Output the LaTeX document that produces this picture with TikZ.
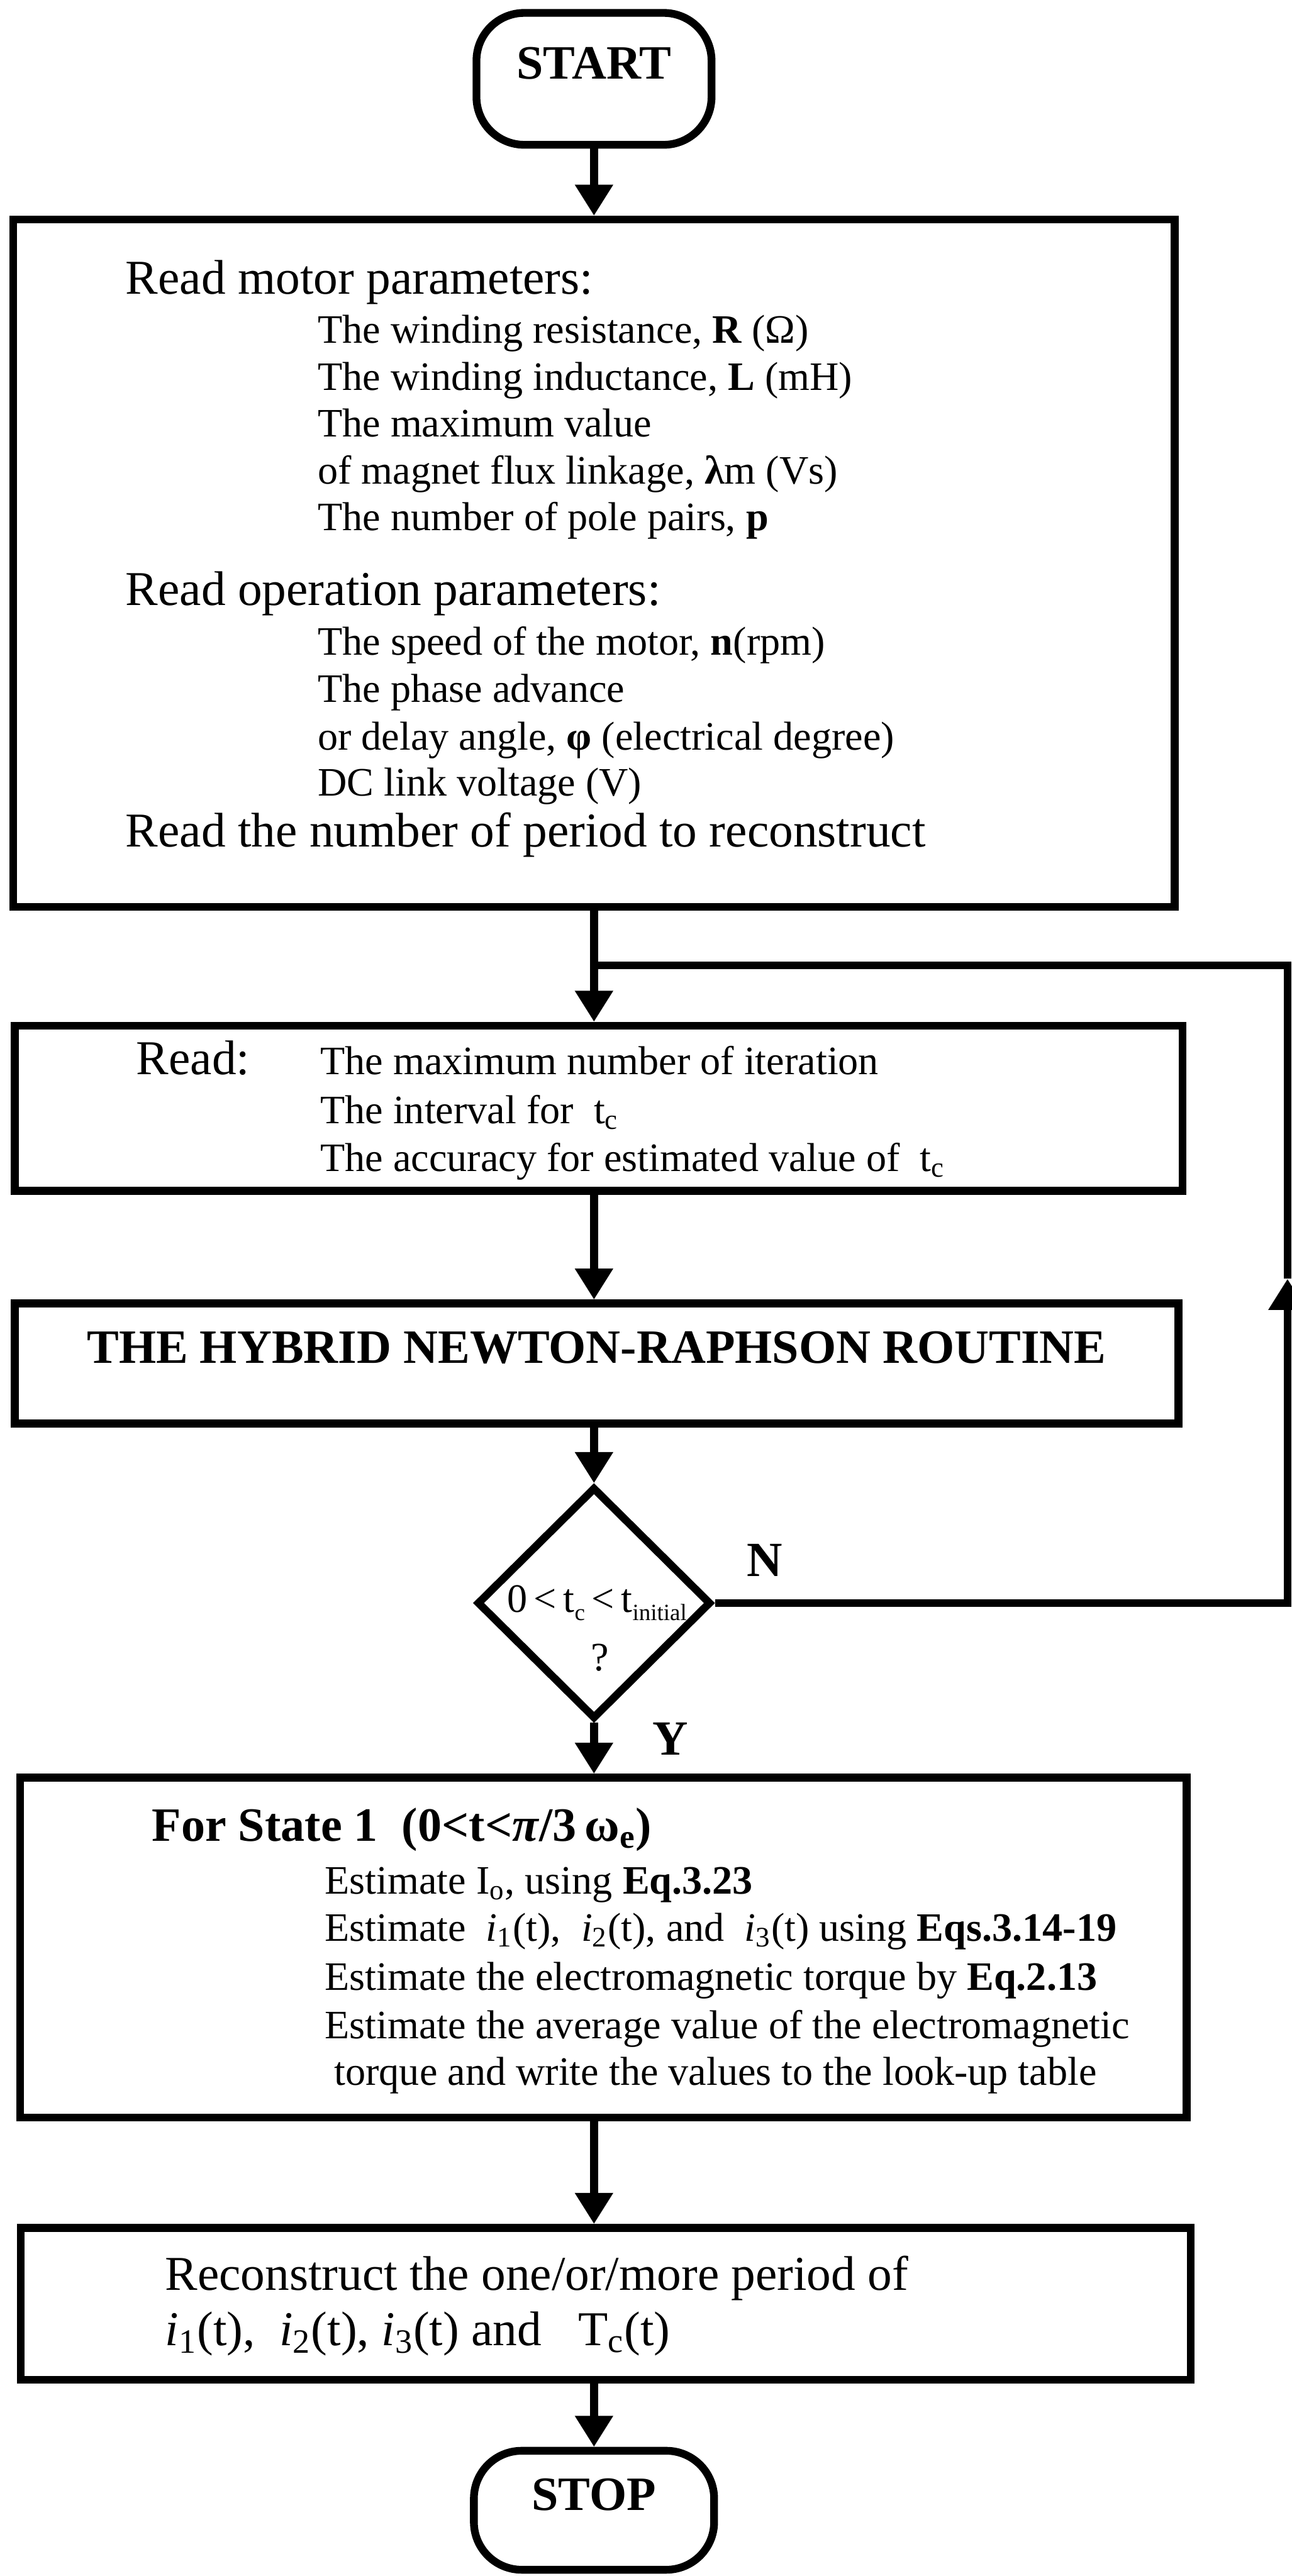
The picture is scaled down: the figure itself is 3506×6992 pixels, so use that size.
\documentclass[tikz,border=0pt]{standalone}
\usepackage{fontspec}
\setmainfont{Liberation Serif}
\usetikzlibrary{arrows.meta,shapes.geometric,fit}

\newcommand{\smallsub}[1]{\raisebox{-0.2em}{\fontsize{9}{10}\selectfont #1}}

\tikzset{
  box/.style={draw,line width=3pt,inner sep=0pt},
  term/.style={box,rounded corners=0.65cm,font=\fontsize{18.5}{22}\selectfont\bfseries},
  decision/.style={draw,diamond,line width=3pt,inner sep=0pt,minimum width=3.18cm,minimum height=3.15cm},
  flow/.style={line width=3pt,-{Triangle[width=14pt,length=12pt]}},
  link/.style={line width=3pt},
  bigtext/.style={anchor=base west,inner sep=0pt,font=\fontsize{18.8}{22}\selectfont},
  subtext/.style={anchor=base west,inner sep=0pt,font=\fontsize{15.6}{18}\selectfont},
  headtext/.style={anchor=base west,inner sep=0pt,font=\fontsize{18.5}{22}\selectfont\bfseries},
  yesno/.style={anchor=base,inner sep=0pt,font=\fontsize{19}{22}\selectfont\bfseries}
}

\begin{document}
\begin{tikzpicture}[x=0.005cm,y=-0.005cm]
\useasboundingbox (0,0) rectangle (3506,6992);

% boxes
\node[term,fit={(1293,35) (1931,393)}] (start) {START};
\node[box,fit={(36,596) (3188,2461)}] (read1) {};
\node[box,fit={(40,2784) (3209,3232)}] (read2) {};
\node[box,fit={(40,3538) (3198,3864)},font=\fontsize{18.5}{22}\selectfont\bfseries] (hybrid) {THE HYBRID NEWTON-RAPHSON ROUTINE};
\node[decision] (dec) at (1612,4351) {};
\node[box,fit={(55,4825) (3220,5748)}] (state1) {};
\node[box,fit={(56,6047) (3231,6459)}] (recon) {};
\node[term,fit={(1286,6652) (1938,6975)}] (stop) {STOP};

% motor and operation parameters
\node[bigtext] (motor) at (340,798) {Read motor parameters:};
\node[subtext] (m1) at (861,932) {The winding resistance, \textbf{R} (Ω)};
\node[subtext] (m2) at (861,1059) {The winding inductance, \textbf{L} (mH)};
\node[subtext] (m3) at (861,1186) {The maximum value};
\node[subtext] (m4) at (861,1313) {of magnet flux linkage, \textbf{λ}m (Vs)};
\node[subtext] (m5) at (861,1440) {The number of pole pairs, \textbf{p}};
\node[bigtext] (oper) at (340,1643) {Read operation parameters:};
\node[subtext] (o1) at (861,1777) {The speed of the motor, \textbf{n}(rpm)};
\node[subtext] (o2) at (861,1906) {The phase advance};
\node[subtext] (o3) at (861,2035) {or delay angle, \textbf{φ} (electrical degree)};
\node[subtext] (o4) at (861,2160) {DC link voltage (V)};
\node[bigtext] (nper) at (340,2298) {Read the number of period to reconstruct};

% iteration settings
\node[bigtext] (rd) at (369,2917) {Read:};
\node[subtext] (r1) at (868,2917) {The maximum number of iteration};
\node[subtext] (r2) at (868,3050) {The interval for~ t\textsubscript{c}};
\node[subtext] (r3) at (868,3180) {The accuracy for estimated value of~ t\textsubscript{c}};

% decision
\node[subtext,anchor=base] (cond) at (1620,4376) {0\,<\,t\smallsub{c}\,<\,t\smallsub{initial}};
\node[subtext,anchor=base] (qm) at (1628,4534) {?};

% state 1
\node[headtext] (st) at (411,4998) {For State 1~~(0<t<\textit{π}/3\,ω\textsubscript{e})};
\node[subtext] (s1) at (880,5141) {Estimate I\textsubscript{o}, using \textbf{Eq.3.23}};
\node[subtext] (s2) at (880,5268) {Estimate~ \textit{i}\textsubscript{1}(t),~ \textit{i}\textsubscript{2}(t), and~ \textit{i}\textsubscript{3}(t) using \textbf{Eqs.3.14-19}};
\node[subtext] (s3) at (880,5402) {Estimate the electromagnetic torque by \textbf{Eq.2.13}};
\node[subtext] (s4) at (880,5533) {Estimate the average value of the electromagnetic};
\node[subtext] (s5) at (906,5660) {torque and write the values to the look-up table};

% reconstruction
\node[bigtext] (rc1) at (447,6216) {Reconstruct the one/or/more period of};
\node[bigtext] (rc2) at (447,6367) {\textit{i}\textsubscript{1}(t),~ \textit{i}\textsubscript{2}(t), \textit{i}\textsubscript{3}(t) and~~ T\textsubscript{c}(t)};

% connectors
\coordinate (join) at (1612,2620);
\coordinate (nturn) at (3494,4351);
\coordinate (ntip) at (3494,3471);
\coordinate (ntop) at (3494,2620);

\draw[flow] (start) -- (start |- read1.north);
\draw[link] (join |- read1.south) -- (join);
\draw[flow] (join) -- (join |- read2.north);
\draw[flow] (join |- read2.south) -- (join |- hybrid.north);
\draw[flow] (join |- hybrid.south) -- (dec);
\draw[flow] (dec) -- (dec |- state1.north);
\draw[flow] (join |- state1.south) -- (join |- recon.north);
\draw[flow] (join |- recon.south) -- (stop);
\draw[flow] (dec.east) -- (nturn) -- (ntip);
\draw[link] (ntip) -- (ntop) -- (join);

\node[yesno] (nlab) at (2075,4279) {N};
\node[yesno] (ylab) at (1819,4764) {Y};

\end{tikzpicture}
\end{document}
